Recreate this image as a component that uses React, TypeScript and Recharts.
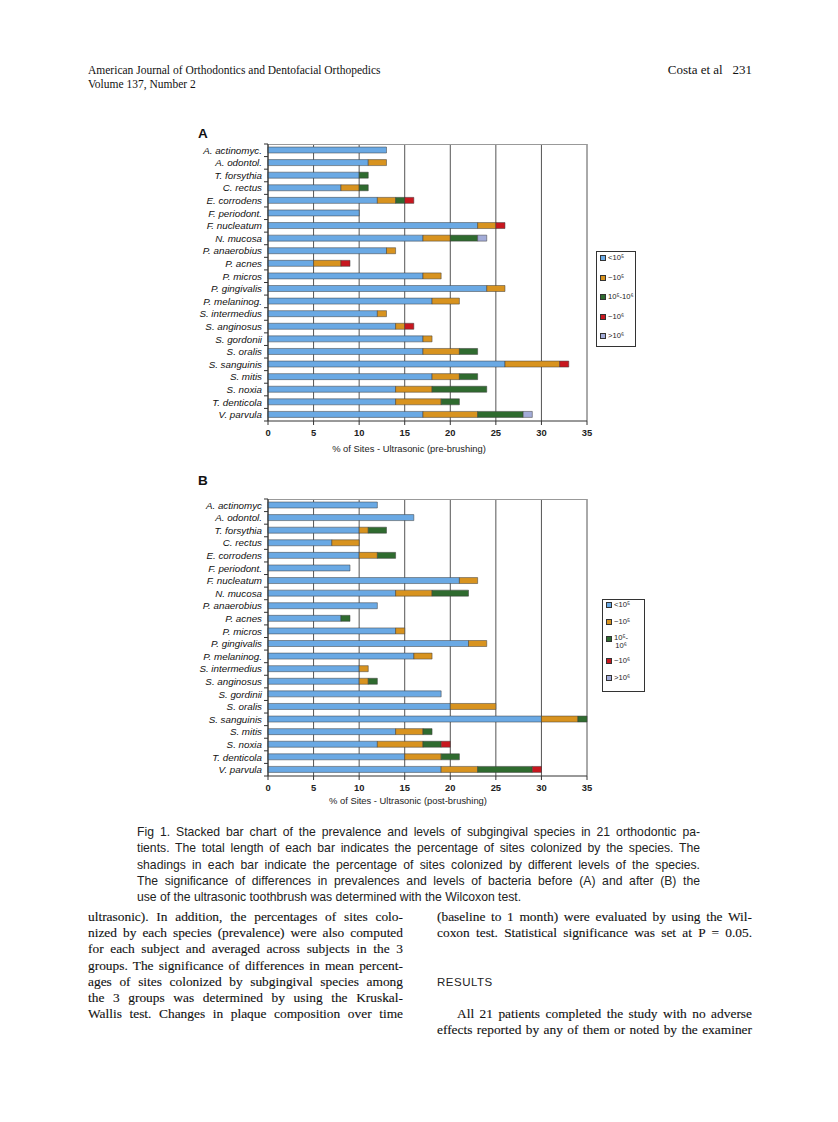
import React from 'react';
import { BarChart, Bar, XAxis, YAxis, CartesianGrid, Legend } from 'recharts';

// ---------- data ----------
const speciesA = [
  'A. actinomyc.', 'A. odontol.', 'T. forsythia', 'C. rectus', 'E. corrodens', 'F. periodont.',
  'F. nucleatum', 'N. mucosa', 'P. anaerobius', 'P. acnes', 'P. micros', 'P. gingivalis',
  'P. melaninog.', 'S. intermedius', 'S. anginosus', 'S. gordonii', 'S. oralis', 'S. sanguinis',
  'S. mitis', 'S. noxia', 'T. denticola', 'V. parvula',
];
const speciesB = [
  'A. actinomyc', 'A. odontol.', 'T. forsythia', 'C. rectus', 'E. corrodens', 'F. periodont.',
  'F. nucleatum', 'N. mucosa', 'P. anaerobius', 'P. acnes', 'P. micros', 'P. gingivalis',
  'P. melaninog.', 'S. intermedius', 'S. anginosus', 'S. gordinii', 'S. oralis', 'S. sanguinis',
  'S. mitis', 'S. noxia', 'T. denticola', 'V. parvula',
];

const seriesNames = ['<10⁵', '~10⁵', '10⁵-10⁶', '~10⁶', '>10⁶'];
const seriesColors = ['#6aa9e4', '#d8931f', '#2f6b2f', '#c8171f', '#a3acd8'];

// Panel A (pre-brushing) – segment lengths, % of sites
const aBelow1e5 = [13, 11, 10, 8, 12, 10, 23, 17, 13, 5, 17, 24, 18, 12, 14, 17, 17, 26, 18, 14, 14, 17];
const aAbout1e5 = [0, 2, 0, 2, 2, 0, 2, 3, 1, 3, 2, 2, 3, 1, 1, 1, 4, 6, 3, 4, 5, 6];
const aBetween = [0, 0, 1, 1, 1, 0, 0, 3, 0, 0, 0, 0, 0, 0, 0, 0, 2, 0, 2, 6, 2, 5];
const aAbout1e6 = [0, 0, 0, 0, 1, 0, 1, 0, 0, 1, 0, 0, 0, 0, 1, 0, 0, 1, 0, 0, 0, 0];
const aAbove1e6 = [0, 0, 0, 0, 0, 0, 0, 1, 0, 0, 0, 0, 0, 0, 0, 0, 0, 0, 0, 0, 0, 1];

// Panel B (post-brushing)
const bBelow1e5 = [12, 16, 10, 7, 10, 9, 21, 14, 12, 8, 14, 22, 16, 10, 10, 19, 20, 30, 14, 12, 15, 19];
const bAbout1e5 = [0, 0, 1, 3, 2, 0, 2, 4, 0, 0, 1, 2, 2, 1, 1, 0, 5, 4, 3, 5, 4, 4];
const bBetween = [0, 0, 2, 0, 2, 0, 0, 4, 0, 1, 0, 0, 0, 0, 1, 0, 0, 1, 1, 2, 2, 6];
const bAbout1e6 = [0, 0, 0, 0, 0, 0, 0, 0, 0, 0, 0, 0, 0, 0, 0, 0, 0, 0, 0, 1, 0, 1];
const bAbove1e6 = [0, 0, 0, 0, 0, 0, 0, 0, 0, 0, 0, 0, 0, 0, 0, 0, 0, 0, 0, 0, 0, 0];

const xTicks = [0, 5, 10, 15, 20, 25, 30, 35];

const buildRows = (names: string[], series: number[][]) =>
  names.map((name, i) => {
    const row: any = { name };
    series.forEach((s, k) => (row['s' + k] = s[i]));
    return row;
  });

const dataA = buildRows(speciesA, [aBelow1e5, aAbout1e5, aBetween, aAbout1e6, aAbove1e6]);
const dataB = buildRows(speciesB, [bBelow1e5, bAbout1e5, bBetween, bAbout1e6, bAbove1e6]);

// ---------- chart ----------
const CH_W = 480;
const CH_H = 330;
const MARGIN = { top: 6, right: 83, left: 0, bottom: 0 };
const X_AXIS_H = 47;
const PLOT_H = CH_H - MARGIN.top - MARGIN.bottom - X_AXIS_H;

const sans = '"Liberation Sans", Arial, sans-serif';
const serif = '"Liberation Serif", "Times New Roman", serif';

const makeCatTick = (count: number) => (props: any) => {
  const { x, y, payload, index } = props;
  const half = PLOT_H / count / 2;
  return (
    <g>
      <text x={x} y={y} dy={3.4} textAnchor="end" fontSize={9.8} fontStyle="italic" fontFamily={sans} fill="#111">
        {payload.value}
      </text>
      <line x1={x + 2} x2={x + 6} y1={y - half} y2={y - half} stroke="#333" strokeWidth={1} />
      {index === count - 1 && (
        <line x1={x + 2} x2={x + 6} y1={y + half} y2={y + half} stroke="#333" strokeWidth={1} />
      )}
    </g>
  );
};

const makeLegend = (box: { width: number; height: number; pt: number; pb: number; narrow: boolean }) =>
  (props: any) => {
    const payload = [...(props.payload || [])].sort(
      (p: any, q: any) => seriesNames.indexOf(p.value) - seriesNames.indexOf(q.value),
    );
    return (
      <div
        style={{
          width: box.width,
          height: box.height,
          boxSizing: 'border-box',
          border: '1px solid #333',
          background: '#fff',
          display: 'flex',
          flexDirection: 'column',
          justifyContent: 'space-between',
          paddingTop: box.pt,
          paddingBottom: box.pb,
          paddingLeft: 3,
          fontFamily: sans,
          fontSize: 7.6,
          color: '#222',
        }}
      >
        {payload.map((entry: any, i: number) => {
          const v: string = entry.value;
          const parts = box.narrow && v.includes('-') ? [v.slice(0, v.indexOf('-') + 1), v.slice(v.indexOf('-') + 1)] : [v];
          return (
            <div key={i} style={{ display: 'flex', alignItems: parts.length > 1 ? 'flex-start' : 'center', lineHeight: '8px', minHeight: 10 }}>
              <span
                style={{
                  display: 'inline-block',
                  width: 4,
                  height: 4,
                  background: entry.color,
                  border: '1px solid #333',
                  marginRight: 2,
                  marginTop: parts.length > 1 ? 2 : 0,
                  flex: 'none',
                }}
              />
              <span style={{ whiteSpace: 'nowrap', textAlign: 'center', lineHeight: '8px' }}>
                {parts.map((p, j) => (
                  <div key={j}>{p}</div>
                ))}
              </span>
            </div>
          );
        })}
      </div>
    );
  };

function Panel(props: {
  data: any[];
  count: number;
  left: number;
  top: number;
  legendPos: { left: number; top: number; width: number; height: number; pt: number; pb: number; narrow: boolean };
}) {
  const { data, count, left, top, legendPos } = props;
  return (
    <div style={{ position: 'absolute', left, top, width: CH_W, height: CH_H }}>
      <BarChart width={CH_W} height={CH_H} data={data} layout="vertical" margin={MARGIN}>
        <CartesianGrid horizontal={false} vertical={true} stroke="#555" strokeWidth={1} />
        <CartesianGrid
          vertical={false}
          horizontal={true}
          stroke="#999"
          strokeWidth={1}
          horizontalPoints={[MARGIN.top + 0.5]}
        />
        <XAxis
          type="number"
          domain={[0, 35]}
          ticks={xTicks}
          interval={0}
          height={X_AXIS_H}
          axisLine={{ stroke: '#333' }}
          tickLine={{ stroke: '#333' }}
          tickSize={4}
          tickMargin={4}
          tick={{ fontSize: 9.4, fontWeight: 600, fill: '#222', fontFamily: sans }}
        />
        <YAxis
          type="category"
          dataKey="name"
          width={78}
          interval={0}
          tickLine={false}
          tickSize={4}
          tickMargin={2}
          axisLine={{ stroke: '#333' }}
          tick={makeCatTick(count)}
        />
        <Legend
          layout="vertical"
          align="center"
          verticalAlign="middle"
          wrapperStyle={{ left: legendPos.left, top: legendPos.top, width: legendPos.width, height: legendPos.height }}
          content={makeLegend(legendPos)}
        />
        {seriesNames.map((n, k) => (
          <Bar
            key={n}
            dataKey={'s' + k}
            name={n}
            stackId="a"
            fill={seriesColors[k]}
            stroke="#3a3a3a"
            strokeWidth={0.5}
            barSize={6}
            isAnimationActive={false}
          />
        ))}
      </BarChart>
    </div>
  );
}

const abs = (left: number, top: number, extra: React.CSSProperties = {}): React.CSSProperties => ({
  position: 'absolute',
  left,
  top,
  ...extra,
});

const captionLines = [
  'Fig 1.  Stacked bar chart of the prevalence and levels of subgingival species in 21 orthodontic pa-',
  'tients. The total length of each bar indicates the percentage of sites colonized by the species. The',
  'shadings in each bar indicate the percentage of sites colonized by different levels of the species.',
  'The significance of differences in prevalences and levels of bacteria before (A) and after (B) the',
  'use of the ultrasonic toothbrush was determined with the Wilcoxon test.',
];

const leftCol = [
  'ultrasonic). In addition, the percentages of sites colo-',
  'nized by each species (prevalence) were also computed',
  'for each subject and averaged across subjects in the 3',
  'groups. The significance of differences in mean percent-',
  'ages of sites colonized by subgingival species among',
  'the 3 groups was determined by using the Kruskal-',
  'Wallis test. Changes in plaque composition over time',
];

const justified = (w: number, last = true): React.CSSProperties => ({
  width: w,
  textAlign: 'justify',
  textAlignLast: last ? 'justify' : 'left',
  whiteSpace: 'normal',
});

export default function App() {
  const bodyStyle: React.CSSProperties = {
    fontFamily: serif,
    fontSize: 13.4,
    lineHeight: '16.2px',
    color: '#111',
    WebkitTextStroke: '0.12px #111',
  };
  return (
    <div style={{ position: 'absolute', left: 0, top: 0, width: 838, height: 1122, background: '#fff', overflow: 'hidden' }}>
      {/* running head */}
      <div style={abs(88, 63, { fontFamily: serif, fontSize: 11.5, lineHeight: '14px', color: '#111' })}>
        American Journal of Orthodontics and Dentofacial Orthopedics
        <br />
        Volume 137, Number 2
      </div>
      <div style={abs(600, 62, { width: 152, textAlign: 'right', fontFamily: serif, fontSize: 13, lineHeight: '16px', color: '#111', whiteSpace: 'pre' })}>
        {'Costa et al   231'}
      </div>

      {/* panel A */}
      <div style={abs(198, 126, { fontFamily: sans, fontWeight: 'bold', fontSize: 13.5, lineHeight: '16px', color: '#111' })}>A</div>
      <Panel
        data={dataA}
        count={speciesA.length}
        left={190}
        top={138}
        legendPos={{ left: 406, top: 113, width: 40, height: 96, pt: 1, pb: 5, narrow: false }}
      />
      <div style={abs(309, 443, { width: 200, textAlign: 'center', fontFamily: sans, fontSize: 9.4, lineHeight: '12px', color: '#222' })}>
        % of Sites - Ultrasonic (pre-brushing)
      </div>

      {/* panel B */}
      <div style={abs(198, 473, { fontFamily: sans, fontWeight: 'bold', fontSize: 13.5, lineHeight: '16px', color: '#111' })}>B</div>
      <Panel
        data={dataB}
        count={speciesB.length}
        left={190}
        top={493}
        legendPos={{ left: 412, top: 106, width: 43, height: 93, pt: 0, pb: 8, narrow: true }}
      />
      <div style={abs(308, 795, { width: 200, textAlign: 'center', fontFamily: sans, fontSize: 9.4, lineHeight: '12px', color: '#222' })}>
        % of Sites - Ultrasonic (post-brushing)
      </div>

      {/* caption */}
      <div style={abs(137, 824, { fontFamily: sans, fontSize: 12.2, lineHeight: '16.3px', color: '#222' })}>
        {captionLines.map((l, i) => (
          <div key={i} style={justified(563, i < captionLines.length - 1)}>
            {l}
          </div>
        ))}
      </div>

      {/* body text */}
      <div style={abs(88, 909, bodyStyle)}>
        {leftCol.map((l, i) => (
          <div key={i} style={justified(315)}>
            {l}
          </div>
        ))}
      </div>
      <div style={abs(437, 909, bodyStyle)}>
        <div style={justified(315)}>(baseline to 1 month) were evaluated by using the Wil-</div>
        <div style={justified(315)}>coxon test. Statistical significance was set at P = 0.05.</div>
      </div>
      <div style={abs(437, 975, { fontFamily: sans, fontSize: 11.5, lineHeight: '14px', letterSpacing: 0.5, color: '#222' })}>RESULTS</div>
      <div style={abs(437, 1006, bodyStyle)}>
        <div style={{ ...justified(315), textIndent: 20 }}>All 21 patients completed the study with no adverse</div>
        <div style={justified(315)}>effects reported by any of them or noted by the examiner</div>
      </div>
    </div>
  );
}
